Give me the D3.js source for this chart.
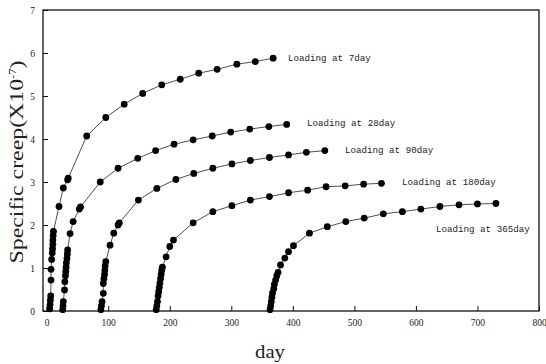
<!DOCTYPE html>
<html>
<head>
<meta charset="utf-8">
<script src="https://cdn.jsdelivr.net/npm/d3@7"></script>
<style>
  body { margin: 0; background: #fff; }
  svg text { font-family: "Liberation Serif", serif; fill: #222; }
</style>
</head>
<body>
<script>
// values (day, specific creep x10^-7)
var day7   = [5, 5.5, 6, 6.5, 7, 7, 8, 9, 9.5, 10, 10, 10.5, 11, 20, 27, 34, 35, 65, 96, 126, 156, 187, 217, 247, 277, 309, 339, 368];
var creep7 = [0.05, 0.15, 0.25, 0.35, 0.72, 0.97, 1.2, 1.35, 1.45, 1.55, 1.65, 1.75, 1.85, 2.43, 2.86, 3.05, 3.09, 4.07, 4.5, 4.81, 5.06, 5.26, 5.39, 5.53, 5.62, 5.74, 5.8, 5.88];

var day28   = [26, 26.5, 27, 29, 29.5, 30.5, 31, 31.5, 32, 33, 33.5, 34, 38, 43, 53, 55, 87, 116, 148, 177, 207, 238, 269, 299, 330, 361, 390];
var creep28 = [0.03, 0.12, 0.22, 0.49, 0.68, 0.82, 0.92, 1.02, 1.12, 1.22, 1.32, 1.42, 1.8, 2.08, 2.37, 2.42, 3.0, 3.32, 3.55, 3.73, 3.88, 3.98, 4.07, 4.16, 4.23, 4.29, 4.34];

var day90   = [88, 89, 90, 92, 92, 93, 94, 94.5, 95, 96, 103, 109, 116, 118, 149, 179, 210, 239, 270, 301, 331, 362, 393, 422, 452];
var creep90 = [0.03, 0.12, 0.22, 0.41, 0.64, 0.75, 0.85, 0.95, 1.05, 1.15, 1.53, 1.81, 2.0, 2.05, 2.58, 2.85, 3.06, 3.2, 3.32, 3.42, 3.5, 3.57, 3.63, 3.69, 3.73];

var day180   = [178, 179, 180, 181, 182, 183, 184, 185, 186, 187, 188, 194, 200, 206, 238, 270, 301, 331, 362, 393, 424, 454, 485, 515, 544];
var creep180 = [0.03, 0.12, 0.22, 0.35, 0.45, 0.55, 0.65, 0.75, 0.85, 0.95, 1.02, 1.26, 1.5, 1.65, 2.05, 2.31, 2.45, 2.58, 2.66, 2.75, 2.81, 2.89, 2.91, 2.95, 2.97];

var day365   = [363, 364, 365, 366, 367, 369, 370, 372, 374, 376, 380, 387, 393, 401, 427, 456, 486, 516, 547, 578, 608, 639, 670, 700, 730];
var creep365 = [0.03, 0.12, 0.22, 0.32, 0.42, 0.52, 0.62, 0.72, 0.82, 0.9, 1.07, 1.23, 1.38, 1.52, 1.81, 1.96, 2.08, 2.16, 2.26, 2.31, 2.37, 2.43, 2.47, 2.49, 2.5];

var seriesNames = ["Loading at 7day", "Loading at 28day", "Loading at 90day", "Loading at 180day", "Loading at 365day"];
var xTicks = [0, 100, 200, 300, 400, 500, 600, 700, 800];
var yTicks = [0, 1, 2, 3, 4, 5, 6, 7];

var allDays  = [day7, day28, day90, day180, day365];
var allCreep = [creep7, creep28, creep90, creep180, creep365];

var svg = d3.select("body").append("svg")
            .attr("width", 546)
            .attr("height", 364);

var x = d3.scaleLinear().domain([-6, 800]).range([43, 539]);
var y = d3.scaleLinear().domain([0, 7]).range([311, 10]);

// axes, ticks pointing inward
var xAxis = svg.append("g")
               .attr("transform", "translate(0,311)")
               .call(d3.axisBottom(x).tickValues(xTicks).tickFormat(d3.format("d"))
                       .tickSizeInner(-5).tickSizeOuter(0).tickPadding(8));
var yAxis = svg.append("g")
               .attr("transform", "translate(43,0)")
               .call(d3.axisLeft(y).tickValues(yTicks).tickFormat(d3.format("d"))
                       .tickSizeInner(-5).tickSizeOuter(0).tickPadding(8));

[xAxis, yAxis].forEach(function(g) {
  g.select(".domain").remove();
  g.selectAll(".tick line").attr("stroke", "#111").attr("stroke-width", 1);
  g.selectAll(".tick text").style("font-size", "9.5px").attr("fill", "#333");
});

// frame
svg.append("rect")
   .attr("x", 43).attr("y", 10)
   .attr("width", 496).attr("height", 301)
   .attr("fill", "none")
   .attr("stroke", "#111")
   .attr("stroke-width", 1.3);

var line = d3.line()
             .x(function(d) {return x(d[0])})
             .y(function(d) {return y(d[1])});

allDays.forEach(function(days, i) {
  var pts = days.map(function(d, j) {return [d, allCreep[i][j]]});

  svg.append("path")
     .datum(pts)
     .attr("d", line)
     .attr("fill", "none")
     .attr("stroke", "#222")
     .attr("stroke-width", 0.8);

  svg.append("g").selectAll("circle")
     .data(pts)
     .enter()
     .append("circle")
     .attr("cx", function(d) {return x(d[0])})
     .attr("cy", function(d) {return y(d[1])})
     .attr("r", 3.4)
     .attr("fill", "#000");
});

// series labels
var labelPos = [[288, 61], [307, 126], [345, 153], [402, 185], [436, 232]];
svg.selectAll(".lbl")
   .data(seriesNames)
   .enter()
   .append("text")
   .attr("class", "lbl")
   .attr("x", function(d, i) {return labelPos[i][0]})
   .attr("y", function(d, i) {return labelPos[i][1]})
   .style("font-family", "'Liberation Mono', monospace")
   .style("font-size", "9.2px")
   .text(function(d) {return d});

// axis titles
svg.append("text")
   .attr("x", 270).attr("y", 358)
   .attr("text-anchor", "middle")
   .style("font-size", "18px")
   .attr("textLength", 30)
   .attr("lengthAdjust", "spacingAndGlyphs")
   .text("day");

var yTitle = svg.append("text")
   .attr("transform", "translate(23,162) rotate(-90)")
   .attr("text-anchor", "middle")
   .attr("textLength", 203)
   .attr("lengthAdjust", "spacingAndGlyphs")
   .style("font-size", "19px");
yTitle.append("tspan").text("Specific creep(X10");
yTitle.append("tspan").attr("dy", -7).style("font-size", "10px").text("-7");
yTitle.append("tspan").attr("dy", 7).text(")");
</script>
</body>
</html>
